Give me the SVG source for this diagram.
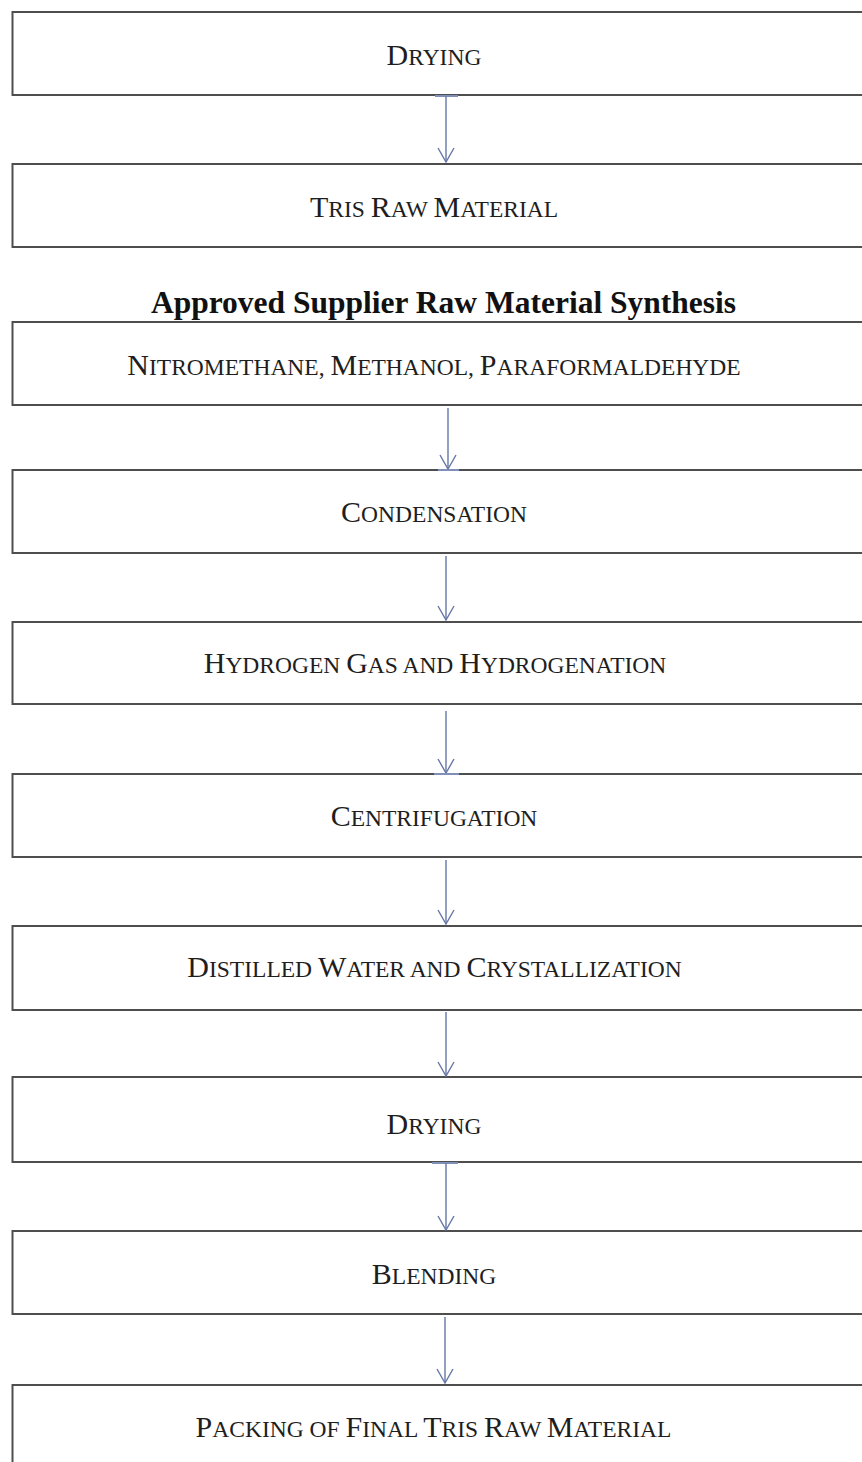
<svg xmlns="http://www.w3.org/2000/svg" width="862" height="1462" viewBox="0 0 862 1462">
<defs>
<style>
.box{fill:#ffffff;stroke:#4e4e4e;stroke-width:2}
.lbl{font-family:"Liberation Serif","Times New Roman",serif;font-size:30px;fill:#1e1e1e;text-anchor:middle}
.sc{font-size:23.5px}
.title{font-family:"Liberation Serif","Times New Roman",serif;font-size:31.5px;font-weight:bold;fill:#111;text-anchor:middle}
.conn{stroke:#6677a6;stroke-width:1.4;fill:none}
.tick{stroke:#7f8fb8;stroke-width:2;fill:none}
</style>
<marker id="arr" viewBox="0 0 16 20" refX="15" refY="10" markerWidth="16" markerHeight="20" markerUnits="userSpaceOnUse" orient="auto">
<path d="M1,2 L15,10 L1,18" fill="none" stroke="#6677a6" stroke-width="1.4"/>
</marker>
</defs>
<rect width="862" height="1462" fill="#ffffff"/>

<g id="node-drying-1">
<rect class="box" x="12.5" y="12" width="900" height="83"/>
<text class="lbl" x="434" y="65">D<tspan class="sc">RYING</tspan></text>
</g>
<g id="node-tris-raw">
<rect class="box" x="12.5" y="164" width="900" height="83"/>
<text class="lbl" x="434" y="217">T<tspan class="sc">RIS </tspan>R<tspan class="sc">AW </tspan>M<tspan class="sc">ATERIAL</tspan></text>
</g>
<g id="title">
<text class="title" x="443.5" y="313">Approved Supplier Raw Material Synthesis</text>
</g>
<g id="node-nitromethane">
<rect class="box" x="12.5" y="322" width="900" height="83"/>
<text class="lbl" x="434" y="375">N<tspan class="sc">ITROMETHANE, </tspan>M<tspan class="sc">ETHANOL, </tspan>P<tspan class="sc">ARAFORMALDEHYDE</tspan></text>
</g>
<g id="node-condensation">
<rect class="box" x="12.5" y="470" width="900" height="83"/>
<text class="lbl" x="434" y="522">C<tspan class="sc">ONDENSATION</tspan></text>
</g>
<g id="node-hydrogen">
<rect class="box" x="12.5" y="622" width="900" height="82"/>
<text class="lbl" x="435" y="673">H<tspan class="sc">YDROGEN </tspan>G<tspan class="sc">AS AND </tspan>H<tspan class="sc">YDROGENATION</tspan></text>
</g>
<g id="node-centrifugation">
<rect class="box" x="12.5" y="774" width="900" height="83"/>
<text class="lbl" x="434" y="826">C<tspan class="sc">ENTRIFUGATION</tspan></text>
</g>
<g id="node-distilled">
<rect class="box" x="12.5" y="926" width="900" height="84"/>
<text class="lbl" x="434.5" y="977">D<tspan class="sc">ISTILLED </tspan>W<tspan class="sc">ATER AND </tspan>C<tspan class="sc">RYSTALLIZATION</tspan></text>
</g>
<g id="node-drying-2">
<rect class="box" x="12.5" y="1077" width="900" height="85"/>
<text class="lbl" x="434" y="1134">D<tspan class="sc">RYING</tspan></text>
</g>
<g id="node-blending">
<rect class="box" x="12.5" y="1231" width="900" height="83"/>
<text class="lbl" x="434" y="1284">B<tspan class="sc">LENDING</tspan></text>
</g>
<g id="node-packing">
<rect class="box" x="12.5" y="1385" width="900" height="120"/>
<text class="lbl" x="433.5" y="1437">P<tspan class="sc">ACKING </tspan><tspan class="sc">OF </tspan>F<tspan class="sc">INAL </tspan>T<tspan class="sc">RIS </tspan>R<tspan class="sc">AW </tspan>M<tspan class="sc">ATERIAL</tspan></text>
</g>

<g id="connectors">
<line class="tick" x1="435" y1="96" x2="458" y2="96"/>
<line class="conn" x1="446" y1="96" x2="446" y2="162" marker-end="url(#arr)"/>
<line class="conn" x1="448" y1="408" x2="448" y2="469" marker-end="url(#arr)"/>
<line class="tick" x1="438" y1="470" x2="459" y2="470"/>
<line class="conn" x1="446" y1="556" x2="446" y2="620" marker-end="url(#arr)"/>
<line class="conn" x1="446" y1="711" x2="446" y2="773" marker-end="url(#arr)"/>
<line class="tick" x1="434" y1="774" x2="459" y2="774"/>
<line class="conn" x1="446" y1="860" x2="446" y2="924" marker-end="url(#arr)"/>
<line class="conn" x1="446" y1="1012" x2="446" y2="1076" marker-end="url(#arr)"/>
<line class="tick" x1="432" y1="1163" x2="458" y2="1163"/>
<line class="conn" x1="446" y1="1163" x2="446" y2="1230" marker-end="url(#arr)"/>
<line class="conn" x1="445" y1="1317" x2="445" y2="1383" marker-end="url(#arr)"/>
</g>
</svg>
